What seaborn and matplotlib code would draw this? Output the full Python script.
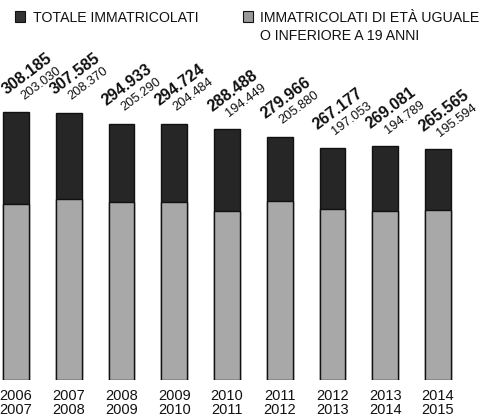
# immatricolati: totale vs eta' <= 19 anni

import pandas as pd
import seaborn as sns
import matplotlib.pyplot as plt
from matplotlib.patches import Rectangle

# data
anni = ["2006\n2007", "2007\n2008", "2008\n2009", "2009\n2010", "2010\n2011",
        "2011\n2012", "2012\n2013", "2013\n2014", "2014\n2015"]
totale = [308185, 307585, 294933, 294724, 288488, 279966, 267177, 269081, 265565]
under19 = [203030, 208370, 205290, 204484, 194449, 205880, 197053, 194789, 195594]

df = pd.DataFrame({"anno": anni, "totale": totale, "under19": under19})

sns.set_style("white")
plt.rcParams["font.family"] = ["Liberation Sans", "DejaVu Sans"]

fig = plt.figure(figsize=(4.91, 4.2), dpi=100)
ax = fig.add_axes([0, 0.095, 1, 0.762])

# bars (overlaid)
sns.barplot(data=df, x="anno", y="totale", color="#262626", saturation=1,
            width=0.49, edgecolor="#111111", linewidth=1, ax=ax)
sns.barplot(data=df, x="anno", y="under19", color="#a8a8a8", saturation=1,
            width=0.49, edgecolor="#111111", linewidth=1, ax=ax)

ax.set_xlim(-0.303, 9.005)
ax.set_ylim(0, 368000)
ax.set_xlabel("")
ax.set_ylabel("")
ax.set_yticks([])
ax.tick_params(axis="x", length=0, pad=6.5, labelsize=10.5, labelcolor="#111111")
for lab in ax.get_xticklabels():
    lab.set_linespacing(0.95)
for s in ax.spines.values():
    s.set_visible(False)

# value labels (italian thousands separator)
def fmt(v):
    return f"{v:,}".replace(",", ".")

for i in range(len(totale)):
    # first label sits at the left edge, nudge it in a bit
    dx = 4 if i == 0 else 0
    ax.annotate(fmt(totale[i]), xy=(i - 0.245, totale[i]), xytext=(-1.2 + dx, 12.5),
                textcoords="offset points", rotation=37, rotation_mode="anchor",
                ha="left", va="baseline", fontsize=11.5, fontweight="bold", color="#111111")
    ax.annotate(fmt(under19[i]), xy=(i - 0.245, totale[i]), xytext=(11 + dx, 9),
                textcoords="offset points", rotation=37, rotation_mode="anchor",
                ha="left", va="baseline", fontsize=9.3, color="#111111")

# legend at the top
fig.add_artist(Rectangle((15 / 491, 1 - 22 / 420), 10 / 491, 11 / 420,
                         transform=fig.transFigure, facecolor="#333333", edgecolor="#111111", lw=0.8))
fig.add_artist(Rectangle((243 / 491, 1 - 22 / 420), 10 / 491, 11 / 420,
                         transform=fig.transFigure, facecolor="#999999", edgecolor="#111111", lw=0.8))
leg_font = dict(fontsize=10.2, va="baseline", color="#111111")
fig.text(33 / 491, 1 - 22 / 420, "TOTALE IMMATRICOLATI", **leg_font)
fig.text(260 / 491, 1 - 22 / 420, "IMMATRICOLATI DI ETÀ UGUALE", **leg_font)
fig.text(260 / 491, 1 - 40 / 420, "O INFERIORE A 19 ANNI", **leg_font)

plt.savefig("out.png", dpi=100)
